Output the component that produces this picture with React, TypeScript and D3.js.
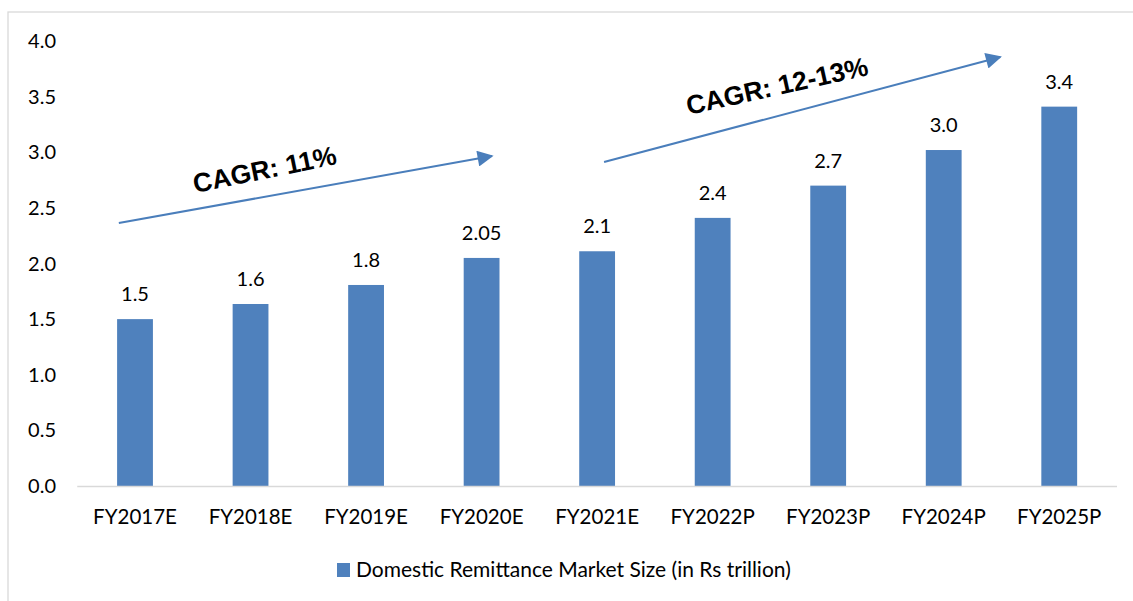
import React from "react";
import * as d3 from "d3";

const categories = ["FY2017E", "FY2018E", "FY2019E", "FY2020E", "FY2021E", "FY2022P", "FY2023P", "FY2024P", "FY2025P"];
const values = [1.5, 1.636, 1.807, 2.05, 2.11, 2.41, 2.7, 3.02, 3.41];
const valueLabels = ["1.5", "1.6", "1.8", "2.05", "2.1", "2.4", "2.7", "3.0", "3.4"];
const yTicks = [0, 0.5, 1, 1.5, 2, 2.5, 3, 3.5, 4];
const seriesName = "Domestic Remittance Market Size (in Rs trillion)";

// CAGR annotations in data space: x = category index, y = value
const arrows = [
  { x1: -0.14, y1: 2.364, x2: 3.09, y2: 2.966 },
  { x1: 4.06, y1: 2.912, x2: 7.49, y2: 3.856 },
];
const cagrTexts = [
  { text: "CAGR: 11%", x: 0.52, y: 2.634, angle: -11.5 },
  { text: "CAGR: 12-13%", x: 4.79, y: 3.335, angle: -12.5 },
];

const W = 1133;
const H = 601;
const left = 77.25;
const right = 1117;
const top = 41;
const bottom = 486;
const barColor = "#4f81bd";
const arrowColor = "#4a7ebb";
const font = "Lato, 'Open Sans', sans-serif";

export default function App() {
  const x = d3.scaleBand<string>().domain(categories).range([left, right]).paddingInner(0.69).paddingOuter(0.345);
  const y = d3.scaleLinear().domain([0, 4]).range([bottom, top]);
  const step = x.step();
  const c0 = (x(categories[0]) as number) + x.bandwidth() / 2;
  const xi = d3.scaleLinear().domain([0, 1]).range([c0, c0 + step]);

  return (
    <svg width={W} height={H} style={{ position: "absolute", left: 0, top: 0, display: "block" }}>
      <defs>
        <marker id="ah" viewBox="0 0 10 10" refX="9" refY="5" markerWidth="8.5" markerHeight="8" markerUnits="strokeWidth" orient="auto">
          <path d="M0,0 L10,5 L0,10 Z" fill={arrowColor} />
        </marker>
      </defs>
      <rect x={0} y={0} width={W} height={H} fill="#fff" />
      <rect x={8} y={12} width={W + 20} height={H + 20} fill="none" stroke="#d9d9d9" strokeWidth={1.3} />
      {yTicks.map((t) => (
        <text key={t} x={56} y={y(t)} dy="0.35em" textAnchor="end" fontFamily={font} fontSize={20} fill="#000">
          {t.toFixed(1)}
        </text>
      ))}
      {categories.map((c, i) => (
        <g key={c}>
          <rect x={x(c)} y={y(values[i])} width={x.bandwidth()} height={bottom - y(values[i])} fill={barColor} />
          <text x={(x(c) as number) + x.bandwidth() / 2} y={y(values[i]) - 18} textAnchor="middle" fontFamily={font} fontSize={20} fill="#000">
            {valueLabels[i]}
          </text>
          <text x={(x(c) as number) + x.bandwidth() / 2} y={524} textAnchor="middle" fontFamily={font} fontSize={20.5} fill="#000">
            {c}
          </text>
        </g>
      ))}
      <line x1={left} x2={right} y1={bottom + 0.5} y2={bottom + 0.5} stroke="#d9d9d9" strokeWidth={1.5} />
      {arrows.map((a, i) => (
        <line key={i} x1={xi(a.x1)} y1={y(a.y1)} x2={xi(a.x2)} y2={y(a.y2)} stroke={arrowColor} strokeWidth={2} markerEnd="url(#ah)" />
      ))}
      {cagrTexts.map((t, i) => (
        <text key={i} transform={`translate(${xi(t.x)},${y(t.y)}) rotate(${t.angle})`} fontFamily="'Liberation Sans', Arial, sans-serif" fontWeight="bold" fontSize={26.5} fill="#000">
          {t.text}
        </text>
      ))}
      <rect x={337} y={563} width={13} height={14} fill={barColor} />
      <text x={356} y={577} fontFamily={font} fontSize={21} fill="#000">
        {seriesName}
      </text>
    </svg>
  );
}
